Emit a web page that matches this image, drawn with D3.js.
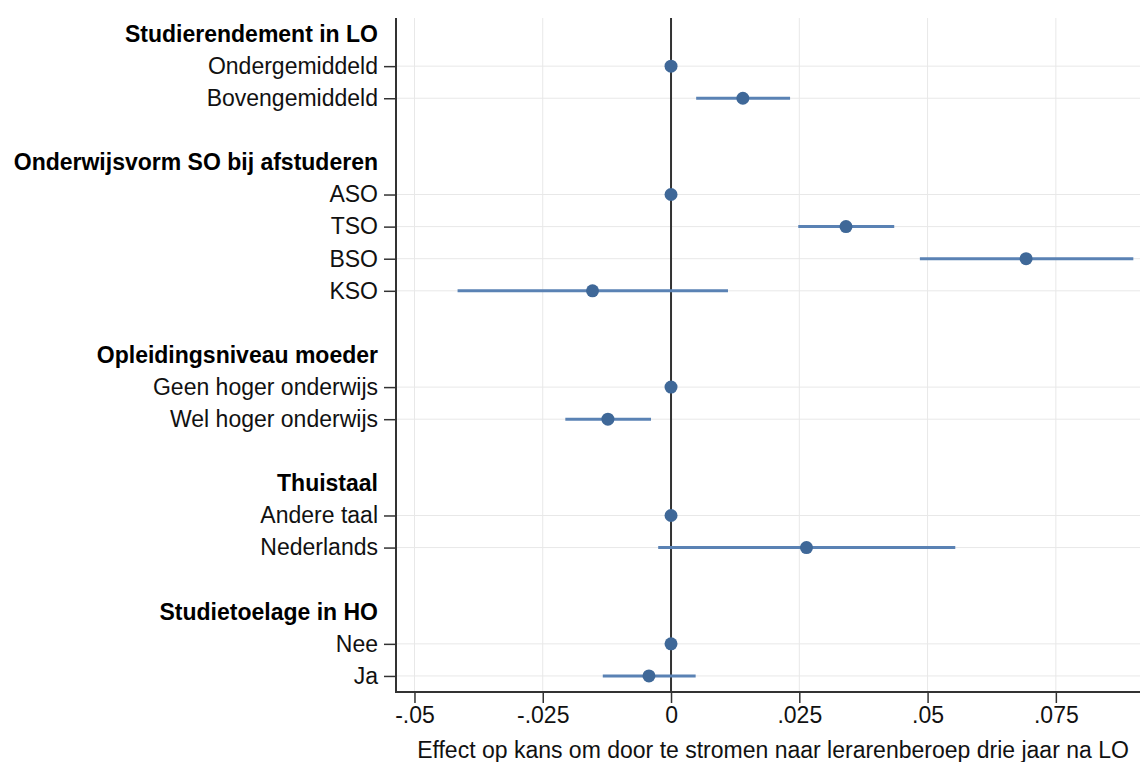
<!DOCTYPE html>
<html>
<head>
<meta charset="utf-8">
<script src="https://cdn.jsdelivr.net/npm/d3@7"></script>
<style>
	html, body { margin: 0; padding: 0; background: #fff; }
	svg { display: block; font-family: "Liberation Sans", Arial, sans-serif; }
</style>
</head>
<body>
<div id="chart"></div>
<script>
// groups and their categories
const groups = [
	"Studierendement in LO",
	"Onderwijsvorm SO bij afstuderen",
	"Opleidingsniveau moeder",
	"Thuistaal",
	"Studietoelage in HO"
];
const categories = [
	["Ondergemiddeld", "Bovengemiddeld"],
	["ASO", "TSO", "BSO", "KSO"],
	["Geen hoger onderwijs", "Wel hoger onderwijs"],
	["Andere taal", "Nederlands"],
	["Nee", "Ja"]
];
// point estimates and confidence bounds, per category
const estimates = [
	[0, 0.0140],
	[0, 0.0341, 0.0692, -0.0153],
	[0, -0.0123],
	[0, 0.0264],
	[0, -0.0043]
];
const lower = [
	[0, 0.0049],
	[0, 0.0248, 0.0485, -0.0416],
	[0, -0.0206],
	[0, -0.0025],
	[0, -0.0133]
];
const upper = [
	[0, 0.0232],
	[0, 0.0435, 0.0901, 0.0111],
	[0, -0.0039],
	[0, 0.0554],
	[0, 0.0048]
];
const xTicks = [-0.05, -0.025, 0, 0.025, 0.05, 0.075];
const xTickLabels = ["-.05", "-.025", "0", ".025", ".05", ".075"];
const xTitle = "Effect op kans om door te stromen naar lerarenberoep drie jaar na LO";

const W = 1140, H = 762;
const plotL = 396, plotR = 1140, plotT = 18, plotB = 692;
const fs = 23;

// build rows: header, items, blank line between groups
const rows = [];
groups.forEach((g, gi) => {
	if (gi > 0) rows.push({ type: "blank" });
	rows.push({ type: "header", label: g });
	categories[gi].forEach((c, ci) => rows.push({
		type: "item", label: c,
		est: estimates[gi][ci], lo: lower[gi][ci], hi: upper[gi][ci]
	}));
});
rows.forEach((r, i) => r.i = i);
const items = rows.filter(r => r.type === "item");

const x = d3.scaleLinear().domain([-0.0536, 0.0914]).range([plotL, plotR]);
const y = d3.scaleLinear().domain([-0.5, rows.length - 0.5]).range([plotT, plotB]);

const svg = d3.select("#chart").append("svg")
	.attr("width", W)
	.attr("height", H);

svg.append("defs").append("clipPath").attr("id", "plot")
	.append("rect").attr("x", plotL).attr("y", plotT).attr("width", plotR - plotL).attr("height", plotB - plotT);

// grid
const grid = svg.append("g").attr("stroke", "#e8e8e8").attr("stroke-width", 1);
grid.selectAll("line.v")
	.data(xTicks.filter(t => t !== 0))
	.enter().append("line")
	.attr("class", "v")
	.attr("x1", d => x(d)).attr("x2", d => x(d))
	.attr("y1", plotT).attr("y2", plotB);
grid.selectAll("line.h")
	.data(items)
	.enter().append("line")
	.attr("class", "h")
	.attr("x1", plotL).attr("x2", plotR)
	.attr("y1", d => y(d.i)).attr("y2", d => y(d.i));

// zero reference line
svg.append("line")
	.attr("x1", x(0)).attr("x2", x(0))
	.attr("y1", plotT).attr("y2", plotB)
	.attr("stroke", "#333").attr("stroke-width", 2);

// x axis
const xAxis = svg.append("g")
	.attr("transform", `translate(0,${plotB})`)
	.call(d3.axisBottom(x).tickValues(xTicks).tickSize(11).tickPadding(4)
		.tickFormat((d, i) => xTickLabels[i]));
xAxis.select(".domain").remove();
xAxis.selectAll(".tick line").attr("stroke", "#333").attr("stroke-width", 1.5);
xAxis.selectAll(".tick text")
	.attr("font-size", fs).attr("fill", "#111")
	.attr("font-family", "Liberation Sans, Arial, sans-serif");

// y axis ticks
const yAxis = svg.append("g")
	.attr("transform", `translate(${plotL},0)`)
	.call(d3.axisLeft(y).tickValues(items.map(d => d.i)).tickSize(12).tickPadding(6)
		.tickFormat(i => rows[i].label));
yAxis.select(".domain").remove();
yAxis.selectAll(".tick line").attr("stroke", "#333").attr("stroke-width", 1.5);
yAxis.selectAll(".tick text")
	.attr("font-size", fs).attr("fill", "#111")
	.attr("font-family", "Liberation Sans, Arial, sans-serif");

// group headers
svg.append("g").selectAll("text")
	.data(rows.filter(r => r.type === "header"))
	.enter().append("text")
	.attr("x", plotL - 18)
	.attr("y", d => y(d.i))
	.attr("dy", "0.35em")
	.attr("text-anchor", "end")
	.attr("font-size", fs)
	.attr("font-weight", "bold")
	.attr("fill", "#000")
	.text(d => d.label);

// axis lines
svg.append("line")
	.attr("x1", plotL).attr("x2", plotL).attr("y1", plotT).attr("y2", plotB + 1)
	.attr("stroke", "#333").attr("stroke-width", 2);
svg.append("line")
	.attr("x1", plotL - 1).attr("x2", plotR).attr("y1", plotB).attr("y2", plotB)
	.attr("stroke", "#333").attr("stroke-width", 2);

// confidence intervals and points
const marks = svg.append("g").attr("clip-path", "url(#plot)");
marks.selectAll("line.ci")
	.data(items.filter(d => d.hi !== d.lo))
	.enter().append("line")
	.attr("class", "ci")
	.attr("x1", d => x(d.lo)).attr("x2", d => x(d.hi))
	.attr("y1", d => y(d.i)).attr("y2", d => y(d.i))
	.attr("stroke", "#5a82b4").attr("stroke-width", 3);
marks.selectAll("circle")
	.data(items)
	.enter().append("circle")
	.attr("cx", d => x(d.est))
	.attr("cy", d => y(d.i))
	.attr("r", 6.5)
	.attr("fill", "#3f6898");

// x title
svg.append("text")
	.attr("x", (plotL + plotR) / 2 + 5)
	.attr("y", 758)
	.attr("text-anchor", "middle")
	.attr("font-size", fs)
	.attr("fill", "#111")
	.text(xTitle);
</script>
</body>
</html>
